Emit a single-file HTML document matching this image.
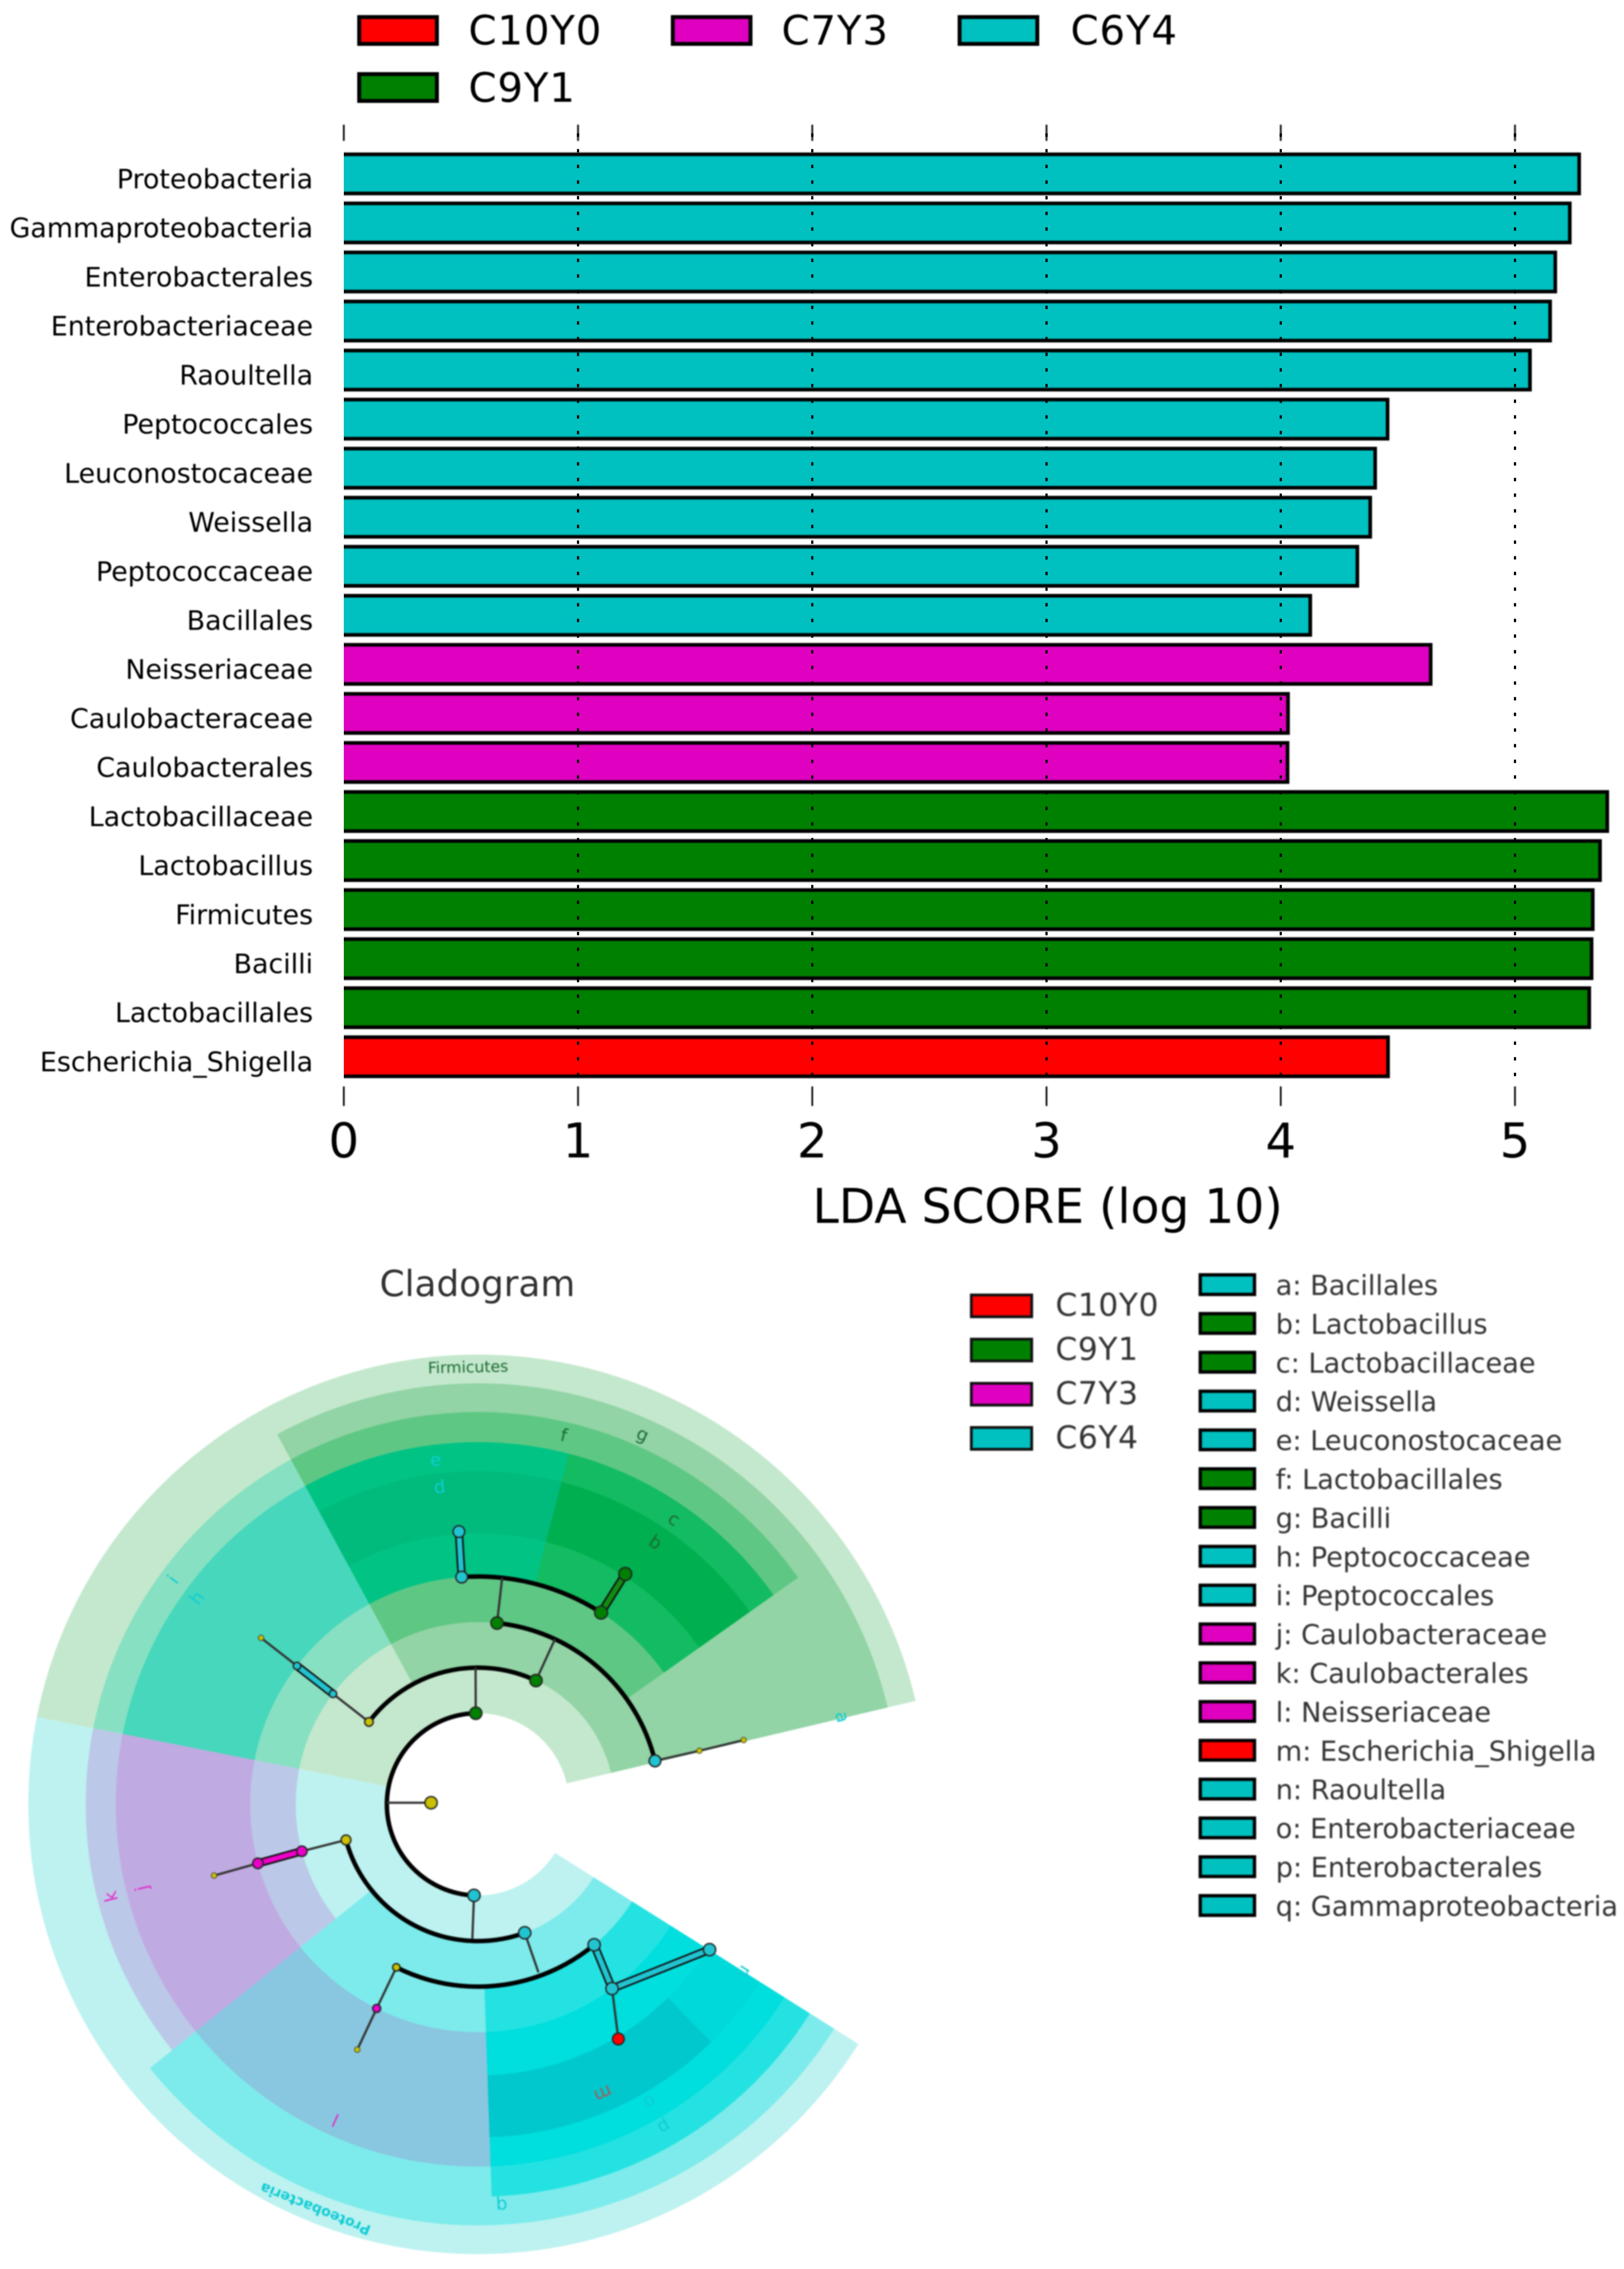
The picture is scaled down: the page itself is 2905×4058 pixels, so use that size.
<!DOCTYPE html>
<html lang="en">
<head>
<meta charset="utf-8">
<title>LDA score bar chart and cladogram</title>
<style>
html,body{margin:0;padding:0;background:#fff;}
svg{display:block;font-family:"DejaVu Sans","Liberation Sans",sans-serif;}
.soft{filter:blur(1px);}
.softer{filter:blur(1.4px);}
.fill-C10Y0{fill:#ff0000;} .fill-C9Y1{fill:#008000;} .fill-C7Y3{fill:#e000bf;} .fill-C6Y4{fill:#00c0c0;}
.txt-C10Y0{fill:#a85a5a;} .txt-C9Y1{fill:#1c6b34;} .txt-C7Y3{fill:#e030c8;} .txt-C6Y4{fill:#10ccd4;}
.sector-firmicutes{fill:#c4e8cd;} .sector-proteobacteria{fill:#bdf2f0;}
.sector-bacilli{fill:#92d4a5;} .sector-lactobacillales{fill:#5fc784;}
.sector-lactobacillaceae{fill:#13bb62;} .sector-lactobacillus{fill:#00b050;}
.sector-leuconostocaceae{fill:#00c384;} .sector-weissella{fill:#00bb7c;}
.sector-peptococcales{fill:#88e0c2;} .sector-peptococcaceae{fill:#47d7bc;}
.sector-caulobacterales{fill:#bcc8e8;} .sector-caulobacteraceae{fill:#c0aae2;}
.sector-gammaproteobacteria{fill:#7debeb;} .sector-neisseriaceae{fill:#89c6e0;}
.sector-enterobacterales{fill:#25e2e2;} .sector-enterobacteriaceae{fill:#00dede;}
.sector-escherichia{fill:#00c8cc;} .sector-raoultella{fill:#00d9da;}
.node-root{fill:#c8c000;} .node-green{fill:#008000;} .node-teal{fill:#20c4d0;}
.node-yellow{fill:#c8c000;} .node-magenta{fill:#e800c8;} .node-red{fill:#ff0000;}
.band-teal{stroke:#20c4d0;} .band-green{stroke:#108c10;} .band-magenta{stroke:#ee00c8;}
</style>
</head>
<body>
<svg id="figure" xmlns="http://www.w3.org/2000/svg" width="2905" height="4058" viewBox="0 0 2905 4058">
  <rect width="2905" height="4058" fill="#ffffff"/>
  <defs>
    <clipPath id="plot-clip"><rect x="615" y="200" width="2290" height="1800"/></clipPath>
  </defs>
  <g id="top-legend" class="soft"></g>
  <g id="bars" class="soft" clip-path="url(#plot-clip)"></g>
  <g id="grid"></g>
  <g id="y-labels" class="soft"></g>
  <g id="x-axis" class="soft"></g>
  <text x="1874" y="2187" font-size="86" text-anchor="middle" textLength="841" lengthAdjust="spacingAndGlyphs" fill="#000" class="soft">LDA SCORE (log 10)</text>

  <text x="854" y="2318" font-size="64" text-anchor="middle" fill="#333" class="soft">Cladogram</text>
  <g id="clado" class="softer">
    <g id="sectors"></g>
    <g id="tree"></g>
    <g id="clade-labels"></g>
  </g>
  <g id="group-legend" class="softer"></g>
  <g id="key-legend" class="softer"></g>
</svg>
<script>
// ---- LDA bar chart data ----
const barLabels = ["Proteobacteria","Gammaproteobacteria","Enterobacterales","Enterobacteriaceae","Raoultella","Peptococcales","Leuconostocaceae","Weissella","Peptococcaceae","Bacillales","Neisseriaceae","Caulobacteraceae","Caulobacterales","Lactobacillaceae","Lactobacillus","Firmicutes","Bacilli","Lactobacillales","Escherichia_Shigella"];
const barValues = [5.274,5.234,5.172,5.150,5.064,4.456,4.403,4.382,4.327,4.126,4.640,4.031,4.029,5.394,5.363,5.332,5.327,5.317,4.458];
const barGroups = ["C6Y4","C6Y4","C6Y4","C6Y4","C6Y4","C6Y4","C6Y4","C6Y4","C6Y4","C6Y4","C7Y3","C7Y3","C7Y3","C9Y1","C9Y1","C9Y1","C9Y1","C9Y1","C10Y0"];
const xTicks = [0,1,2,3,4,5];
const topLegendRow1 = ["C10Y0","C7Y3","C6Y4"];
const topLegendRow2 = ["C9Y1"];

// ---- Cladogram data (radius in tree levels, angle in degrees CCW from +x) ----
const sectorNames = ["firmicutes","proteobacteria","bacilli","lactobacillales","lactobacillaceae","lactobacillus","leuconostocaceae","weissella","peptococcales","peptococcaceae","caulobacterales","caulobacteraceae","gammaproteobacteria","neisseriaceae","enterobacterales","enterobacteriaceae","escherichia","raoultella"];
const sectorStart = [13.3,168.8,13.3,35.3,35.3,35.3,75.5,75.5,118.5,118.5,168.8,168.8,218.8,218.8,272,272,272,314.5];
const sectorEnd = [168.8,327.8,118.5,118.5,75.5,75.5,118.5,118.5,168.8,168.8,218.8,218.8,327.8,272,327.8,327.8,314.5,327.8];
const sectorInner = [2,2,3,4,5,5.95,5,5.95,4,5,4,5,3,5,4,5,5.95,5.95];
const sectorOuter = [9.87,9.87,9.24,8.61,7.95,7.31,7.95,7.31,8.61,7.95,8.61,7.95,9.24,7.95,8.61,7.95,7.31,7.31];

const arcLevels = [2,3,4,5,3,4];
const arcStarts = [91.4,64.9,13.8,57.3,195.1,243.4];
const arcEnds = [267.5,142.9,84.0,94.1,290,309.6];

const nodeNames = ["root","bacteria-a","bacteria-b","firmicutes","bacilli","lactobacillales","bacillales-base","leuco","leuco-tip","lacto","lacto-tip","pep-1","pep-2","pep-3","other-1","other-2","other-3","proteo","gamma","entero-base","caulo-1","caulo-2","caulo-3","neiss-base","neiss-1","neiss-2","entero","entero-fam","raoult","esch"];
const nodeLevels = [1.03,2,2,3,3,4,4,5,6,5,6,4,5,6,4,5,6,3,3,4,4,5,6,4,5,6,4,5,6,6];
const nodeAngles = [178,91.4,267.5,142.9,64.9,84,13.8,94.1,94,57.3,57.4,142.7,142.6,142.5,13.8,13.6,13.6,195.1,290,309.6,194.9,195,195.1,243.4,243.6,243.8,309.6,306.05,327.9,300.9];
const nodeKinds = ["root","green","teal","yellow","green","green","teal","teal","teal","green","green","teal","teal","yellow","teal","yellow","yellow","yellow","teal","teal","magenta","magenta","yellow","yellow","magenta","yellow","teal","teal","teal","red"];
const nodeSizes = [2,2,2,1.4,2,2,1.9,1.9,1.9,2.1,2.1,1.2,1.2,0.9,1.9,0.9,0.9,1.6,2,1.9,1.7,1.7,0.9,1.2,1.3,0.9,2,2,2,1.9];

const edgeFrom = [0,1,4,5,7,9,3,11,12,6,14,15,2,17,20,21,18,23,24,26,27,27];
const edgeTo   = [-1,-2,-3,-4,8,10,11,12,13,14,15,16,-5,20,21,22,-6,24,25,27,28,29];
const edgeKinds = ["thin","thin","thin","thin","band-teal","band-green","thin","band-teal","thin","thin","thin","thin","thin","thin","band-magenta","thin","thin","thin","thin","band-teal","band-teal","thin"];
// stems that land on an arc rather than on a node: [level, angle]
const stemLevels = [2,3,4,5,2.95,3.92];
const stemAngles = [179,91,65,83.9,267.6,289.8];

const cladeText = ["Firmicutes","Proteobacteria","a","b","c","d","e","f","g","h","i","j","k","l","m","n","o","p","q"];
const cladeLevel = [9.6,9.57,8.23,6.95,7.6,7.02,7.62,8.32,8.89,7.66,8.32,7.61,8.31,7.6,6.92,6.91,7.55,8.18,8.83];
const cladeAngle = [91.3,248.1,13.5,55.9,55.5,96.9,97,76.9,66,143.7,143.6,194,194.1,245.7,293.4,327.8,300,300,273.4];
const cladeGroup = ["C9Y1","C6Y4","C6Y4","C9Y1","C9Y1","C6Y4","C6Y4","C9Y1","C9Y1","C6Y4","C6Y4","C7Y3","C7Y3","C7Y3","C10Y0","C6Y4","C6Y4","C6Y4","C6Y4"];

const groupLegendNames = ["C10Y0","C9Y1","C7Y3","C6Y4"];
const keyLabels = ["a: Bacillales","b: Lactobacillus","c: Lactobacillaceae","d: Weissella","e: Leuconostocaceae","f: Lactobacillales","g: Bacilli","h: Peptococcaceae","i: Peptococcales","j: Caulobacteraceae","k: Caulobacterales","l: Neisseriaceae","m: Escherichia_Shigella","n: Raoultella","o: Enterobacteriaceae","p: Enterobacterales","q: Gammaproteobacteria"];
const keyGroups = ["C6Y4","C9Y1","C9Y1","C6Y4","C6Y4","C9Y1","C9Y1","C6Y4","C6Y4","C7Y3","C7Y3","C7Y3","C10Y0","C6Y4","C6Y4","C6Y4","C6Y4"];

// ---- helpers ----
const NS = "http://www.w3.org/2000/svg";
function mk(tag, parent, attrs){
  const el = document.createElementNS(NS, tag);
  for (const k in attrs) el.setAttribute(k, attrs[k]);
  parent.appendChild(el);
  return el;
}
function slug(s){ return s.toLowerCase().replace(/[^a-z0-9]+/g,"-").replace(/^-|-$/g,""); }
const xScale = v => 615 + 419 * v;
const yBand = i => 276 + 87.72 * i;
const BAR_H = 70;
const CX = 855, CY = 3227, LEVEL = 81.5;
const rScale = l => l * LEVEL;
function polar(l, deg){
  const a = deg * Math.PI / 180, r = rScale(l);
  return [CX + r * Math.cos(a), CY - r * Math.sin(a)];
}

// ---- top legend ----
const topLegend = document.getElementById("top-legend");
const row1X = [639,1200,1713];
const row1TextX = [838,1398,1915];
function topEntry(name, sx, sy, tx, ty){
  const sw = mk("rect", topLegend, {x:sx+3.5,y:sy+3.5,width:139,height:48,stroke:"#000","stroke-width":7,class:"fill-"+name});
  
  
  const t = mk("text", topLegend, {x:tx,y:ty,"font-size":72,"letter-spacing":1.5,fill:"#000"});
  t.textContent = name;
  
  
}
topLegendRow1.forEach((n,i)=>topEntry(n,row1X[i],27,row1TextX[i],79.5));
topLegendRow2.forEach((n,i)=>topEntry(n,row1X[i],129,row1TextX[i],182));

// ---- bars ----
const barsG = document.getElementById("bars");
const yLabelG = document.getElementById("y-labels");
barValues.forEach((v,i)=>{
  const r = mk("rect", barsG, {x:xScale(0)-10,y:yBand(i),width:xScale(v)-xScale(0)+10,height:BAR_H,stroke:"#000","stroke-width":6.5,class:"fill-"+barGroups[i]});
  
  
  const t = mk("text", yLabelG, {x:560,y:yBand(i)+BAR_H/2+26,"font-size":48,"text-anchor":"end",fill:"#000"});
  t.textContent = barLabels[i];
  
  
});

// ---- grid and x axis ----
const gridG = document.getElementById("grid");
const xAxisG = document.getElementById("x-axis");
xTicks.forEach(v=>{
  const x = xScale(v);
  if (v !== 0) {
    const g = mk("line", gridG, {x1:x,x2:x,y1:238.6,y2:1945,stroke:"#000","stroke-width":4,"stroke-dasharray":"6 22"});
    
    
  }
  const tt = mk("line", xAxisG, {x1:x,x2:x,y1:223,y2:252,stroke:"#000","stroke-width":3});
  
  
  const bt = mk("line", xAxisG, {x1:x,x2:x,y1:1943,y2:1978,stroke:"#000","stroke-width":3});
  
  
  const t = mk("text", xAxisG, {x:x,y:2070,"font-size":86,"text-anchor":"middle",fill:"#000"});
  t.textContent = v;
  
  
});

// ---- cladogram sectors ----
const sectorsG = document.getElementById("sectors");
function annulus(l0,l1,a0,a1){
  const r0 = rScale(l0), r1 = rScale(l1), large = (a1-a0) > 180 ? 1 : 0;
  const p1 = polar(l1,a0), p2 = polar(l1,a1), p3 = polar(l0,a1), p4 = polar(l0,a0);
  return `M${p1[0]} ${p1[1]}A${r1} ${r1} 0 ${large} 0 ${p2[0]} ${p2[1]}L${p3[0]} ${p3[1]}A${r0} ${r0} 0 ${large} 1 ${p4[0]} ${p4[1]}Z`;
}
sectorNames.forEach((n,i)=>{
  const p = mk("path", sectorsG, {d:annulus(sectorInner[i],sectorOuter[i],sectorStart[i],sectorEnd[i]),class:"sector-"+n});
  
  
});

// ---- cladogram tree ----
const treeG = document.getElementById("tree");
arcLevels.forEach((l,i)=>{
  const r = rScale(l), a0 = arcStarts[i], a1 = arcEnds[i];
  const p0 = polar(l,a0), p1 = polar(l,a1);
  const large = (a1-a0) > 180 ? 1 : 0;
  const arc = mk("path", treeG, {d:`M${p0[0]} ${p0[1]}A${r} ${r} 0 ${large} 0 ${p1[0]} ${p1[1]}`,fill:"none",stroke:"#000","stroke-width":8});
  
  
});
function endPoint(idx){
  if (idx >= 0) return polar(nodeLevels[idx], nodeAngles[idx]);
  const s = -idx - 1;
  return polar(stemLevels[s], stemAngles[s]);
}
edgeFrom.forEach((f,i)=>{
  const a = endPoint(f), b = endPoint(edgeTo[i]), kind = edgeKinds[i];
  if (kind === "thin") {
    const ln = mk("line", treeG, {x1:a[0],y1:a[1],x2:b[0],y2:b[1],stroke:"#333","stroke-width":4});
    
    
  } else {
    const o = mk("line", treeG, {x1:a[0],y1:a[1],x2:b[0],y2:b[1],stroke:"#111","stroke-width":15});
    
    
    const ln = mk("line", treeG, {x1:a[0],y1:a[1],x2:b[0],y2:b[1],class:kind,"stroke-width":9});
    
    
  }
});
nodeNames.forEach((n,i)=>{
  const p = polar(nodeLevels[i], nodeAngles[i]);
  const c = mk("circle", treeG, {cx:p[0],cy:p[1],r:nodeSizes[i]*5.5,class:"node-"+nodeKinds[i],stroke:"#222","stroke-width":nodeSizes[i]>1?2.5:1});
  
  
});

// ---- clade labels ----
const cladeG = document.getElementById("clade-labels");
cladeText.forEach((t,i)=>{
  const p = polar(cladeLevel[i], cladeAngle[i]);
  const rot = 90 - cladeAngle[i];
  const isProteo = t === "Proteobacteria";
  const el = mk("text", cladeG, {x:0,y:0,dy:".35em","font-size":isProteo?25:(t.length>1?28:32),"font-weight":isProteo?"bold":"normal","text-anchor":"middle",class:"txt-"+cladeGroup[i],transform:`translate(${p[0]} ${p[1]}) rotate(${rot})`});
  el.textContent = t;
  
  
});

// ---- cladogram legends ----
const groupG = document.getElementById("group-legend");
groupLegendNames.forEach((n,i)=>{
  const y = 2316 + 79 * i;
  const r = mk("rect", groupG, {x:1737.5,y:y,width:108,height:39,stroke:"#111","stroke-width":5,class:"fill-"+n});
  
  
  const t = mk("text", groupG, {x:1888,y:y+37,"font-size":56,"letter-spacing":1,fill:"#333"});
  t.textContent = n;
  
  
});
const keyG = document.getElementById("key-legend");
keyLabels.forEach((n,i)=>{
  const y = 2280 + 69.4 * i;
  const r = mk("rect", keyG, {x:2147,y:y,width:97,height:35,stroke:"#000","stroke-width":6,class:"fill-"+keyGroups[i]});
  
  
  const t = mk("text", keyG, {x:2282,y:y+36,"font-size":48.6,fill:"#333"});
  t.textContent = n;
  
  
});
</script>
</body>
</html>
